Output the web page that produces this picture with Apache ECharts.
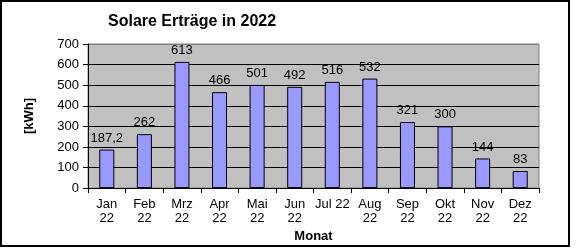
<!DOCTYPE html>
<html><head><meta charset="utf-8">
<script src="https://cdn.jsdelivr.net/npm/echarts@6/dist/echarts.min.js"></script>
<style>html,body{margin:0;padding:0;background:#fff}#c{width:577px;height:248px}</style>
</head><body><div id="c"></div>
<script>
const categories = ["Jan\n22","Feb\n22","Mrz\n22","Apr\n22","Mai\n22","Jun\n22","Jul 22","Aug\n22","Sep\n22","Okt\n22","Nov\n22","Dez\n22"];
const values = [187.2, 262, 613, 466, 501, 492, 516, 532, 321, 300, 144, 83];
const yTicks = [0,100,200,300,400,500,600,700];
const titleText = "Solare Erträge in 2022";
const xName = "Monat";
const yName = "[kWh]";

const chart = echarts.init(document.getElementById('c'), null, {renderer:'canvas'});
const F = 'Liberation Sans, Arial, sans-serif';
chart.setOption({
  animation:false,
  textStyle:{fontFamily:F},
  title:{text:titleText,left:103,top:9,textStyle:{fontFamily:F,fontSize:16,fontWeight:'bold',color:'#000'}},
  graphic:[{type:'rect',shape:{x:1,y:1,width:568,height:245},style:{fill:'none',stroke:'#000',lineWidth:2},silent:true}],
  grid:{left:88,right:38,top:44,bottom:56,show:true,backgroundColor:'#C0C0C0',borderColor:'#808080',borderWidth:1},
  xAxis:{type:'category',data:categories,name:xName,nameLocation:'middle',nameGap:39,
    nameTextStyle:{fontFamily:F,fontSize:13,fontWeight:'bold',color:'#000'},
    axisLine:{lineStyle:{color:'#000',width:1}},
    axisTick:{show:true,length:5,lineStyle:{color:'#000'}},
    axisLabel:{fontFamily:F,fontSize:13,color:'#000',lineHeight:14,margin:9,interval:0}},
  yAxis:{type:'value',min:yTicks[0],max:yTicks[yTicks.length-1],interval:100,name:yName,nameLocation:'middle',nameGap:52,
    nameTextStyle:{fontFamily:F,fontSize:13,fontWeight:'bold',color:'#000'},
    axisLine:{show:true,lineStyle:{color:'#000',width:1}},
    axisTick:{show:true,length:5,lineStyle:{color:'#000'}},
    axisLabel:{fontFamily:F,fontSize:13,color:'#000',margin:9},
    splitLine:{show:true,lineStyle:{color:['#000','#000','#000','#000','#000','#000','#000','#808080'],width:1}}},
  series:[{type:'bar',data:values,barWidth:'40%',
    itemStyle:{color:'#9999FF',borderColor:'#000',borderWidth:1},
    label:{show:true,position:'top',distance:5,fontFamily:F,fontSize:13,color:'#000',
      formatter:p=>String(p.value).replace('.',',')}}]
});
</script></body></html>
